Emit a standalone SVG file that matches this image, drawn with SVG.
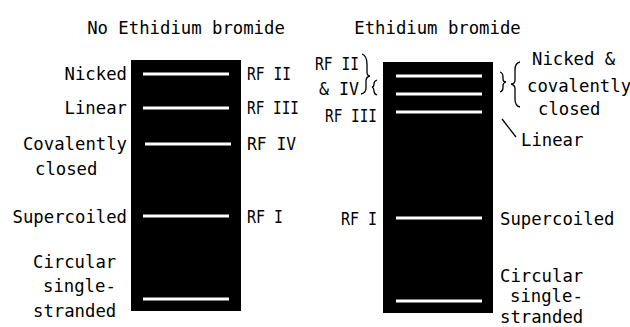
<svg xmlns="http://www.w3.org/2000/svg" width="630" height="327" viewBox="0 0 630 327">
<style>
text{font-family:"DejaVu Sans Mono","Liberation Mono",monospace;font-size:17.3px;fill:#000}
.gel{fill:#000}
.band{fill:#fff}
.e{text-anchor:end}
.m{text-anchor:middle}
.br{fill:none;stroke:#000;stroke-width:1.3}
</style>
<rect width="630" height="327" fill="#fff"/>
<g id="title-left"><text class="m" x="186" y="34">No Ethidium bromide</text></g>
<g id="title-right"><text class="m" x="437.5" y="34">Ethidium bromide</text></g>

<g id="gel-left">
<rect class="gel" x="131" y="60" width="110" height="251"/>
<rect class="band" x="143" y="72.5" width="86" height="3"/>
<rect class="band" x="143" y="106.5" width="86" height="3"/>
<rect class="band" x="145" y="142.5" width="86" height="3"/>
<rect class="band" x="143" y="214.5" width="86" height="3"/>
<rect class="band" x="143" y="297.5" width="86" height="3"/>
</g>

<g id="labels-left">
<text class="e" x="127" y="80">Nicked</text>
<text class="e" x="127" y="114">Linear</text>
<text class="e" x="127" y="150">Covalently</text>
<text x="35" y="175">closed</text>
<text class="e" x="127" y="223">Supercoiled</text>
<text x="33" y="268">Circular</text>
<text x="43" y="292">single-</text>
<text x="33" y="317">stranded</text>
<text x="247" y="80" textLength="44" lengthAdjust="spacingAndGlyphs">RF II</text>
<text x="247" y="114" textLength="52" lengthAdjust="spacingAndGlyphs">RF III</text>
<text x="247" y="150" textLength="49" lengthAdjust="spacingAndGlyphs">RF IV</text>
<text x="247" y="223" textLength="36" lengthAdjust="spacingAndGlyphs">RF I</text>
</g>

<g id="gel-right">
<rect class="gel" x="383" y="62" width="110" height="251"/>
<rect class="band" x="396" y="74.5" width="86" height="3"/>
<rect class="band" x="396" y="92.5" width="86" height="3"/>
<rect class="band" x="396" y="110.5" width="86" height="3"/>
<rect class="band" x="396" y="216.5" width="86" height="3"/>
<rect class="band" x="396" y="299.5" width="86" height="3"/>
</g>

<g id="labels-right">
<text x="315" y="70" textLength="44" lengthAdjust="spacingAndGlyphs">RF II</text>
<text x="319" y="95" textLength="40" lengthAdjust="spacingAndGlyphs">&amp; IV</text>
<text x="325" y="122" textLength="52" lengthAdjust="spacingAndGlyphs">RF III</text>
<text x="341" y="225" textLength="36" lengthAdjust="spacingAndGlyphs">RF I</text>
<text x="532" y="65">Nicked &amp;</text>
<text x="527" y="92">covalently</text>
<text x="538" y="115">closed</text>
<text x="521" y="146">Linear</text>
<text x="500" y="225">Supercoiled</text>
<text x="500" y="281.5">Circular</text>
<text x="510" y="302">single-</text>
<text x="500" y="322.5">stranded</text>
</g>

<g id="connectors">
<path class="br" d="M362,54 Q367,56 367,64 L367,72 Q367,76 370,76 Q366,77 366,81 L366,88 Q366,93 361,94"/>
<path class="br" d="M377,80 Q374,81 374,84 Q374,87 372,87 Q374,88 374,91 Q374,94 377,95"/>
<path class="br" d="M500,72 Q503,73 503,77 L503,79 Q503,82 506,82 Q503,83 503,85 L503,88 Q503,91 500,92"/>
<path class="br" d="M520,62 Q515,63 515,70 L515,80 Q515,84 511,84 Q515,85 515,89 L515,99 Q515,106 520,107"/>
<line class="br" x1="502" y1="119" x2="516" y2="137"/>
</g>
</svg>
